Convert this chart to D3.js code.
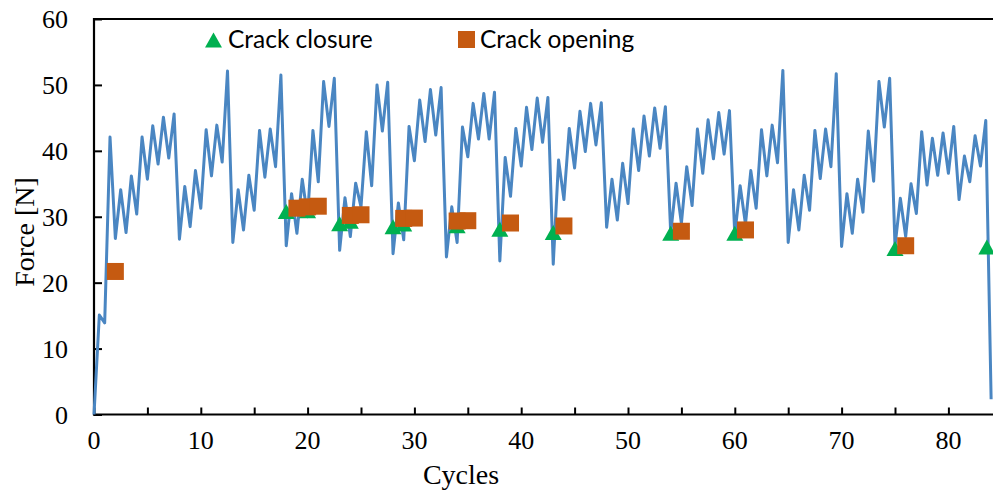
<!DOCTYPE html>
<html><head><meta charset="utf-8">
<script src="https://cdn.jsdelivr.net/npm/d3@7"></script>
<style>body{margin:0;background:#fff}svg{display:block}</style>
</head><body>
<div id="chart"></div>
<script>
// Force [N] sampled every half cycle (peaks at n+0.5, valleys at n)
const forceValues = [
  0, 15.1, 13.9,
  42.1, 26.7, 34.1, 27.6, 36.2, 30.4, 42.1, 35.7, 43.8, 38.0, 45.1, 38.9, 45.6, 26.6,
  34.6, 28.5, 37.0, 31.3, 43.2, 36.2, 43.9, 38.3, 52.1, 26.1,
  34.1, 28.0, 36.3, 31.0, 43.1, 36.0, 43.3, 37.6, 51.5, 25.6,
  33.5, 27.5, 35.7, 30.0, 43.1, 35.3, 50.5, 43.7, 51.0, 24.9,
  32.9, 27.0, 35.1, 31.5, 42.9, 34.7, 50.0, 43.0, 50.4, 24.4,
  32.1, 26.5, 43.7, 38.5, 47.7, 41.4, 49.3, 42.4, 49.6, 23.9,
  31.5, 26.1, 43.6, 39.1, 47.2, 41.8, 48.7, 41.8, 48.9, 23.3,
  39.0, 33.1, 43.4, 37.7, 46.6, 40.2, 48.0, 41.3, 48.1, 22.8,
  38.6, 32.6, 43.4, 37.4, 46.0, 39.9, 47.2, 40.9, 47.3, 28.4,
  35.7, 29.5, 38.1, 32.0, 43.3, 37.0, 45.3, 39.2, 46.5, 40.4, 46.7, 27.5,
  35.1, 29.0, 37.6, 31.7, 43.3, 36.6, 44.7, 38.8, 45.8, 39.5, 46.1, 27.2,
  34.7, 28.9, 37.0, 31.3, 43.2, 36.2, 43.9, 38.2, 52.2, 26.1,
  34.1, 28.0, 36.3, 31.0, 43.1, 35.8, 43.3, 37.6, 51.7, 25.5,
  33.5, 27.5, 35.7, 30.7, 43.0, 35.4, 50.5, 43.6, 51.0, 25.5,
  32.8, 27.0, 35.0, 30.5, 42.9, 34.8, 41.9, 36.3, 42.7, 36.6, 43.7, 32.6, 39.2, 35.3, 42.3, 37.7, 44.6,
  2.3
];
const forceCycles = forceValues.map((v, i) => i * 0.5);

const closureCycles = [18, 20, 23, 24, 28, 29, 34, 38, 43, 54, 60, 75, 83.6];
const closureForce  = [30.8, 30.9, 28.95, 29.3, 28.5, 28.9, 28.65, 28.1, 27.6, 27.5, 27.5, 25.2, 25.4];

const openingCycles = [2, 19, 20, 21, 24, 25, 29, 30, 34, 35, 39, 44, 55, 61, 76];
const openingForce  = [21.7, 31.3, 31.5, 31.6, 30.2, 30.3, 29.75, 29.8, 29.35, 29.4, 29.05, 28.6, 27.8, 28.0, 25.6];

const xTicks = [0, 10, 20, 30, 40, 50, 60, 70, 80];
const xMinorTicks = [0, 5, 10, 15, 20, 25, 30, 35, 40, 45, 50, 55, 60, 65, 70, 75, 80, 85];
const yTicks = [0, 10, 20, 30, 40, 50, 60];

const W = 993, H = 490;
const L = 94, T = 19, B = 414.5;
const svg = d3.select("#chart").append("svg").attr("width", W).attr("height", H);

const x = d3.scaleLinear().domain([0, 85]).range([L, L + 85 * 10.68]);
const y = d3.scaleLinear().domain([0, 60]).range([B, T]);

const serif = "'Liberation Serif','Times New Roman',serif";

// frame: top border
svg.append("line").attr("x1", L).attr("x2", W).attr("y1", T).attr("y2", T)
  .attr("stroke", "#000").attr("stroke-width", 2);

// y axis
const yAxis = svg.append("g").attr("transform", `translate(${L},0)`)
  .call(d3.axisRight(y).tickValues(yTicks).tickSize(8).tickFormat(""));
yAxis.select(".domain").remove();
yAxis.selectAll("line").attr("stroke", "#000").attr("stroke-width", 2);
svg.append("line").attr("x1", L).attr("x2", L).attr("y1", T - 1).attr("y2", B + 1)
  .attr("stroke", "#000").attr("stroke-width", 2.2);
svg.append("g").selectAll("text").data(yTicks).join("text")
  .attr("x", 68).attr("y", d => y(d)).attr("dy", "0.35em")
  .attr("text-anchor", "end").attr("font-family", serif).attr("font-size", 26)
  .text(d => d);

// x axis
const xAxis = svg.append("g").attr("transform", `translate(0,${B})`)
  .call(d3.axisTop(x).tickValues(xMinorTicks).tickSize(7).tickFormat(""));
xAxis.select(".domain").remove();
xAxis.selectAll("line").attr("stroke", "#000").attr("stroke-width", 2);
svg.append("line").attr("x1", L - 1).attr("x2", W).attr("y1", B).attr("y2", B)
  .attr("stroke", "#000").attr("stroke-width", 2.2);
svg.append("g").selectAll("text").data(xTicks).join("text")
  .attr("x", d => x(d)).attr("y", 440).attr("dy", "0.35em")
  .attr("text-anchor", "middle").attr("font-family", serif).attr("font-size", 26)
  .text(d => d);

// axis titles
svg.append("text").attr("x", 461).attr("y", 474).attr("dy", "0.35em")
  .attr("text-anchor", "middle").attr("font-family", serif).attr("font-size", 28)
  .text("Cycles");
svg.append("text").attr("transform", "translate(24,232) rotate(-90)").attr("dy", "0.35em")
  .attr("text-anchor", "middle").attr("font-family", serif).attr("font-size", 28)
  .text("Force [N]");

// line
const line = d3.line().x((d, i) => x(forceCycles[i])).y(d => y(d));
svg.append("path").datum(forceValues).attr("d", line)
  .attr("fill", "none").attr("stroke", "#4a86c2").attr("stroke-width", 3)
  .attr("stroke-linejoin", "round");

// closure triangles
const triPath = (cx, cy) => {
  const w = 17, h = 15;
  return `M${cx - w / 2},${cy + h / 2}L${cx},${cy - h / 2}L${cx + w / 2},${cy + h / 2}Z`;
};
svg.append("g").selectAll("path").data(closureCycles).join("path")
  .attr("d", (d, i) => triPath(x(d), y(closureForce[i])))
  .attr("fill", "#00b050");

// opening squares
const S = 17;
svg.append("g").selectAll("rect").data(openingCycles).join("rect")
  .attr("x", d => x(d) - S / 2).attr("y", (d, i) => y(openingForce[i]) - S / 2)
  .attr("width", S).attr("height", S).attr("fill", "#c55a11");

// legend
const sans = "Lato,'Open Sans',sans-serif";
svg.append("path").attr("d", triPath(213.5, 40)).attr("fill", "#00b050");
svg.append("text").attr("x", 228).attr("y", 48).attr("font-family", sans).attr("font-size", 24.5)
  .text("Crack closure");
svg.append("rect").attr("x", 458).attr("y", 31).attr("width", S).attr("height", S).attr("fill", "#c55a11");
svg.append("text").attr("x", 480).attr("y", 48).attr("font-family", sans).attr("font-size", 24.5)
  .text("Crack opening");
</script>
</body></html>
